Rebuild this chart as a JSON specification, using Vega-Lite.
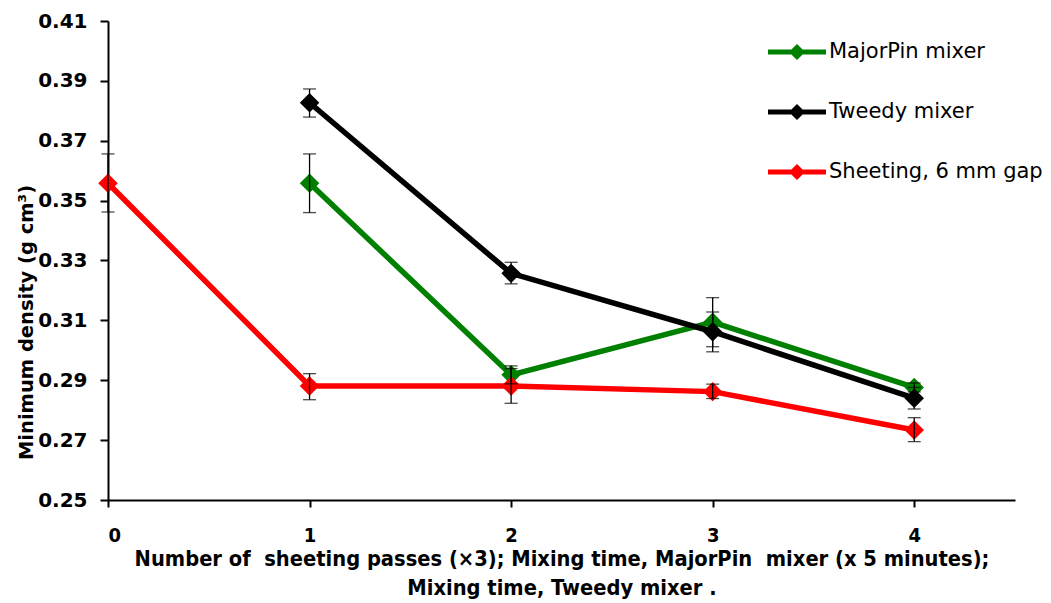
{
  "$schema": "https://vega.github.io/schema/vega-lite/v6.json",
  "width": 907,
  "height": 479,
  "autosize": {"type": "none"},
  "padding": {"left": 108, "top": 21, "right": 36, "bottom": 103},
  "background": "white",
  "config": {"view": {"stroke": null}},
  "data": {
    "values": [
      {"series": "MajorPin mixer", "x": 1, "y": 0.3558, "lo": 0.3460, "hi": 0.3656},
      {"series": "MajorPin mixer", "x": 2, "y": 0.2918, "lo": 0.2888, "hi": 0.2948},
      {"series": "MajorPin mixer", "x": 3, "y": 0.3094, "lo": 0.3012, "hi": 0.3176},
      {"series": "MajorPin mixer", "x": 4, "y": 0.2876, "lo": 0.2861, "hi": 0.2891},
      {"series": "Tweedy mixer", "x": 1, "y": 0.3827, "lo": 0.3779, "hi": 0.3873},
      {"series": "Tweedy mixer", "x": 2, "y": 0.3257, "lo": 0.3222, "hi": 0.3294},
      {"series": "Tweedy mixer", "x": 3, "y": 0.3062, "lo": 0.2995, "hi": 0.3128},
      {"series": "Tweedy mixer", "x": 4, "y": 0.2840, "lo": 0.2804, "hi": 0.2876},
      {"series": "Sheeting, 6 mm gap", "x": 0, "y": 0.3558, "lo": 0.3462, "hi": 0.3656},
      {"series": "Sheeting, 6 mm gap", "x": 1, "y": 0.2881, "lo": 0.2835, "hi": 0.2922},
      {"series": "Sheeting, 6 mm gap", "x": 2, "y": 0.2881, "lo": 0.2823, "hi": 0.2939},
      {"series": "Sheeting, 6 mm gap", "x": 3, "y": 0.2862, "lo": 0.2839, "hi": 0.2887},
      {"series": "Sheeting, 6 mm gap", "x": 4, "y": 0.2734, "lo": 0.2695, "hi": 0.2775}
    ]
  },
  "encoding": {
    "x": {
      "field": "x", "type": "quantitative",
      "scale": {"domain": [0, 4.5], "nice": false, "zero": false},
      "axis": {
        "values": [0, 1, 2, 3, 4],
        "grid": false,
        "domainColor": "black", "domainWidth": 2,
        "tickColor": "black", "tickWidth": 2, "tickSize": 7,
        "labelFont": "DejaVu Sans Condensed", "labelFontWeight": "bold", "labelFontSize": 20, "labelColor": "black",
        "labelPadding": 18,
        "title": ["Number of\u00a0 sheeting passes (×3); Mixing time, MajorPin\u00a0 mixer (x 5 minutes);", "Mixing time, Tweedy mixer ."],
        "titleFont": "DejaVu Sans Condensed", "titleFontWeight": "bold", "titleFontSize": 21.7, "titleColor": "black",
        "titleLineHeight": 29, "titlePadding": 3
      }
    },
    "y": {
      "field": "y", "type": "quantitative",
      "scale": {"domain": [0.25, 0.41], "nice": false, "zero": false},
      "axis": {
        "values": [0.25, 0.27, 0.29, 0.31, 0.33, 0.35, 0.37, 0.39, 0.41],
        "format": ".2f",
        "grid": false,
        "domainColor": "black", "domainWidth": 2,
        "tickColor": "black", "tickWidth": 2, "tickSize": 8,
        "labelFont": "DejaVu Sans", "labelFontWeight": "bold", "labelFontSize": 20, "labelColor": "black",
        "labelPadding": 13,
        "title": "Minimum density (g cm³)",
        "titleFont": "DejaVu Sans", "titleFontWeight": "bold", "titleFontSize": 19.5, "titleColor": "black",
        "titleX": -72, "titleY": 301
      }
    },
    "color": {
      "field": "series", "type": "nominal",
      "scale": {"domain": ["MajorPin mixer", "Tweedy mixer", "Sheeting, 6 mm gap"], "range": ["#008000", "#000000", "#ff0000"]},
      "legend": {
        "title": null,
        "orient": "none", "legendX": 660, "legendY": 2,
        "symbolType": "M-1,-0.09H1V0.09H-1Z M0,-0.28L0.28,0L0,0.28L-0.28,0Z",
        "symbolSize": 3364,
        "symbolStrokeWidth": 0,
        "labelFont": "DejaVu Sans", "labelFontSize": 21, "labelColor": "black",
        "labelOffset": 3,
        "labelLimit": 400,
        "rowPadding": 21,
        "encode": {"symbols": {"update": {"fill": {"scale": "color", "field": "value"}, "strokeWidth": {"value": 0}, "opacity": {"value": 1}}}}
      }
    }
  },
  "layer": [
    {
      "mark": {"type": "line", "strokeWidth": 5.5}
    },
    {
      "mark": {"type": "point", "shape": "diamond", "filled": true, "size": 380, "opacity": 1}
    },
    {
      "mark": {"type": "rule", "strokeWidth": 1.3},
      "encoding": {"y": {"field": "lo", "type": "quantitative"}, "y2": {"field": "hi"}, "color": {"value": "black"}}
    },
    {
      "mark": {"type": "tick", "orient": "horizontal", "size": 13, "thickness": 1.3},
      "encoding": {"y": {"field": "lo", "type": "quantitative"}, "color": {"value": "black"}}
    },
    {
      "mark": {"type": "tick", "orient": "horizontal", "size": 13, "thickness": 1.3},
      "encoding": {"y": {"field": "hi", "type": "quantitative"}, "color": {"value": "black"}}
    }
  ]
}
